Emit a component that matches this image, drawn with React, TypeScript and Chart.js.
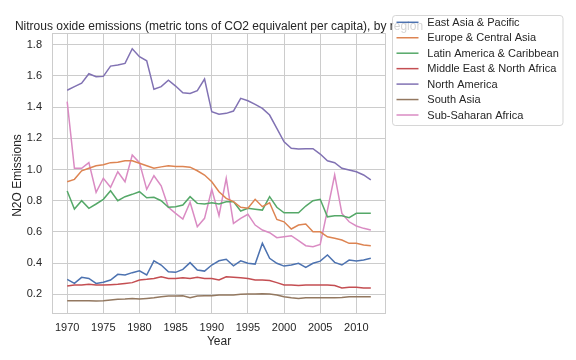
import React, { useEffect, useRef } from "react";
import { Chart, registerables } from "chart.js";

Chart.register(...registerables);

const FONT = '"Liberation Sans", Arial, Helvetica, sans-serif';
const TEXT = "#262626";

const TITLE = "Nitrous oxide emissions (metric tons of CO2 equivalent per capita), by region";
const X_LABEL = "Year";
const Y_LABEL = "N2O Emissions";

const years = [
  1970, 1971, 1972, 1973, 1974, 1975, 1976, 1977, 1978, 1979,
  1980, 1981, 1982, 1983, 1984, 1985, 1986, 1987, 1988, 1989,
  1990, 1991, 1992, 1993, 1994, 1995, 1996, 1997, 1998, 1999,
  2000, 2001, 2002, 2003, 2004, 2005, 2006, 2007, 2008, 2009,
  2010, 2011, 2012,
];

const xTicks = [1970, 1975, 1980, 1985, 1990, 1995, 2000, 2005, 2010];
const yTicks = [0.2, 0.4, 0.6, 0.8, 1.0, 1.2, 1.4, 1.6, 1.8];

const regions = [
  "East Asia & Pacific",
  "Europe & Central Asia",
  "Latin America & Caribbean",
  "Middle East & North Africa",
  "North America",
  "South Asia",
  "Sub-Saharan Africa",
];

const eastAsiaPacific = [
  0.296, 0.27, 0.309, 0.302, 0.27, 0.277, 0.292, 0.328, 0.324, 0.339,
  0.351, 0.324, 0.415, 0.388, 0.345, 0.341, 0.36, 0.403, 0.356, 0.349,
  0.388, 0.415, 0.425, 0.383, 0.415, 0.399, 0.394, 0.527, 0.431, 0.399,
  0.381, 0.388, 0.399, 0.373, 0.399, 0.413, 0.452, 0.405, 0.388, 0.42,
  0.413, 0.42, 0.431,
];
const europeCentralAsia = [
  0.922, 0.937, 0.992, 1.008, 1.024, 1.03, 1.044, 1.046, 1.056, 1.056,
  1.04, 1.024, 1.008, 1.017, 1.024, 1.02, 1.02, 1.015, 0.992, 0.965,
  0.922, 0.858, 0.815, 0.794, 0.758, 0.752, 0.809, 0.762, 0.787, 0.68,
  0.665, 0.619, 0.644, 0.651, 0.601, 0.601, 0.569, 0.559, 0.548, 0.527,
  0.527, 0.516, 0.512,
];
const latinAmericaCaribbean = [
  0.862, 0.747, 0.8, 0.751, 0.779, 0.809, 0.864, 0.8, 0.826, 0.841,
  0.858, 0.819, 0.822, 0.8, 0.758, 0.762, 0.772, 0.826, 0.783, 0.779,
  0.787, 0.779, 0.794, 0.794, 0.734, 0.751, 0.745, 0.74, 0.826, 0.758,
  0.723, 0.723, 0.723, 0.766, 0.8, 0.809, 0.697, 0.704, 0.704, 0.691,
  0.719, 0.719, 0.719,
];
const middleEastNorthAfrica = [
  0.253, 0.26, 0.26, 0.264, 0.26, 0.26, 0.262, 0.264, 0.27, 0.275,
  0.292, 0.296, 0.302, 0.313, 0.302, 0.302, 0.306, 0.302, 0.309, 0.302,
  0.302, 0.292, 0.313, 0.309, 0.306, 0.302, 0.292, 0.292, 0.288, 0.275,
  0.26, 0.26, 0.256, 0.26, 0.26, 0.26, 0.26, 0.256, 0.241, 0.245,
  0.245, 0.241, 0.241,
];
const northAmerica = [
  1.508, 1.531, 1.553, 1.614, 1.595, 1.597, 1.663, 1.67, 1.68, 1.774,
  1.723, 1.697, 1.514, 1.531, 1.572, 1.535, 1.492, 1.488, 1.505, 1.58,
  1.37, 1.354, 1.36, 1.375, 1.456, 1.441, 1.418, 1.392, 1.349, 1.264,
  1.178, 1.136, 1.131, 1.133, 1.133, 1.099, 1.056, 1.044, 1.008, 0.997,
  0.986, 0.965, 0.933,
];
const southAsia = [
  0.159, 0.159, 0.159, 0.159, 0.158, 0.159, 0.163, 0.168, 0.17, 0.174,
  0.17, 0.174, 0.178, 0.185, 0.189, 0.189, 0.191, 0.178, 0.189, 0.191,
  0.191, 0.196, 0.196, 0.196, 0.2, 0.202, 0.202, 0.204, 0.202, 0.196,
  0.185, 0.178, 0.174, 0.178, 0.178, 0.178, 0.178, 0.178, 0.18, 0.185,
  0.185, 0.185, 0.185,
];
const subSaharanAfrica = [
  1.435, 1.008, 1.008, 1.044, 0.854, 0.944, 0.886, 0.986, 0.922, 1.093,
  1.044, 0.873, 0.96, 0.896, 0.758, 0.719, 0.683, 0.79, 0.633, 0.687,
  0.873, 0.704, 0.944, 0.655, 0.687, 0.713, 0.644, 0.612, 0.595, 0.563,
  0.569, 0.576, 0.544, 0.512, 0.505, 0.52, 0.74, 0.965, 0.719, 0.665,
  0.638, 0.623, 0.612,
];

const seriesValues = [
  eastAsiaPacific,
  europeCentralAsia,
  latinAmericaCaribbean,
  middleEastNorthAfrica,
  northAmerica,
  southAsia,
  subSaharanAfrica,
];

const colors = ["#4C72B0", "#DD8452", "#55A868", "#C44E52", "#8172B3", "#937860", "#DA8BC3"];

const overlayPlugin = {
  id: "overlay",
  beforeDatasetsDraw(chart: any) {
    const { ctx, chartArea: a } = chart;
    ctx.save();
    ctx.strokeStyle = "#cccccc";
    ctx.lineWidth = 1;
    const x0 = Math.round(a.left) + 0.5;
    const y0 = Math.round(a.top) + 0.5;
    const x1 = Math.round(a.right) - 0.5;
    const y1 = Math.round(a.bottom) - 0.5;
    ctx.strokeRect(x0, y0, x1 - x0, y1 - y0);
    ctx.restore();
  },
  afterDraw(chart: any) {
    const { ctx, chartArea: a } = chart;
    const cx = (a.left + a.right) / 2;
    ctx.save();
    ctx.fillStyle = TEXT;
    // title
    ctx.font = `12px ${FONT}`;
    ctx.textAlign = "center";
    ctx.textBaseline = "alphabetic";
    ctx.fillText(TITLE, cx, 29.5);
    // x label
    ctx.fillText(X_LABEL, cx, 344.5);
    // y label
    ctx.save();
    ctx.translate(20.5, (a.top + a.bottom) / 2 + 2);
    ctx.rotate(-Math.PI / 2);
    ctx.textAlign = "center";
    ctx.textBaseline = "alphabetic";
    ctx.fillText(Y_LABEL, 0, 0);
    ctx.restore();

    // legend
    const bx = 392.5, by = 15.5, bw = 170.5, bh = 110, r = 3;
    ctx.beginPath();
    ctx.moveTo(bx + r, by);
    ctx.lineTo(bx + bw - r, by);
    ctx.arcTo(bx + bw, by, bx + bw, by + r, r);
    ctx.lineTo(bx + bw, by + bh - r);
    ctx.arcTo(bx + bw, by + bh, bx + bw - r, by + bh, r);
    ctx.lineTo(bx + r, by + bh);
    ctx.arcTo(bx, by + bh, bx, by + bh - r, r);
    ctx.lineTo(bx, by + r);
    ctx.arcTo(bx, by, bx + r, by, r);
    ctx.closePath();
    ctx.fillStyle = "rgba(255,255,255,0.8)";
    ctx.fill();
    ctx.strokeStyle = "rgba(204,204,204,0.8)";
    ctx.lineWidth = 1;
    ctx.stroke();

    ctx.font = `11px ${FONT}`;
    ctx.textAlign = "left";
    ctx.textBaseline = "middle";
    chart.data.datasets.forEach((ds: any, i: number) => {
      const yy = 22.3 + i * 15.45;
      ctx.strokeStyle = ds.borderColor;
      ctx.lineWidth = 1.5;
      ctx.beginPath();
      ctx.moveTo(396.5, yy);
      ctx.lineTo(418.5, yy);
      ctx.stroke();
      ctx.fillStyle = TEXT;
      ctx.fillText(ds.label, 427.3, yy + 0.5);
    });
    ctx.restore();
  },
};

export default function App() {
  const canvasRef = useRef<HTMLCanvasElement | null>(null);

  useEffect(() => {
    const canvas = canvasRef.current;
    if (!canvas) return;
    const datasets = regions.map((name, i) => ({
      label: name,
      data: years.map((yr, j) => ({ x: yr, y: seriesValues[i][j] })),
      borderColor: colors[i],
      backgroundColor: colors[i],
      borderWidth: 1.5,
      pointRadius: 0,
      tension: 0,
      fill: false,
    }));

    const chart = new Chart(canvas, {
      type: "line",
      data: { datasets },
      plugins: [overlayPlugin],
      options: {
        animation: false,
        responsive: false,
        maintainAspectRatio: false,
        devicePixelRatio: 1,
        layout: { padding: { left: 0, top: 33, right: 190, bottom: 0 } },
        plugins: {
          legend: { display: false },
          title: { display: false },
          tooltip: { enabled: false },
        },
        scales: {
          x: {
            type: "linear",
            min: 1967.9,
            max: 2014.1,
            bounds: "data",
            afterFit: (s: any) => {
              s.height = 46;
            },
            afterBuildTicks: (s: any) => {
              s.ticks = xTicks.map((v) => ({ value: v }));
            },
            grid: { color: "#cccccc", lineWidth: 1, drawTicks: false },
            border: { display: false },
            ticks: {
              font: { family: FONT, size: 11 },
              color: TEXT,
              padding: 7,
              maxRotation: 0,
              autoSkip: false,
              callback: (v: any) => String(v),
            },
          },
          y: {
            type: "linear",
            min: 0.074,
            max: 1.875,
            bounds: "data",
            afterFit: (s: any) => {
              s.width = 52;
            },
            afterBuildTicks: (s: any) => {
              s.ticks = yTicks.map((v) => ({ value: v }));
            },
            grid: { color: "#cccccc", lineWidth: 1, drawTicks: false },
            border: { display: false },
            ticks: {
              font: { family: FONT, size: 11 },
              color: TEXT,
              padding: 10,
              autoSkip: false,
              callback: (v: any) => Number(v).toFixed(1),
            },
          },
        },
      },
    });
    return () => chart.destroy();
  }, []);

  return (
    <div style={{ position: "fixed", left: 0, top: 0, width: 576, height: 360, background: "#ffffff" }}>
      <canvas ref={canvasRef} width={576} height={360} style={{ display: "block", width: 576, height: 360 }} />
    </div>
  );
}
